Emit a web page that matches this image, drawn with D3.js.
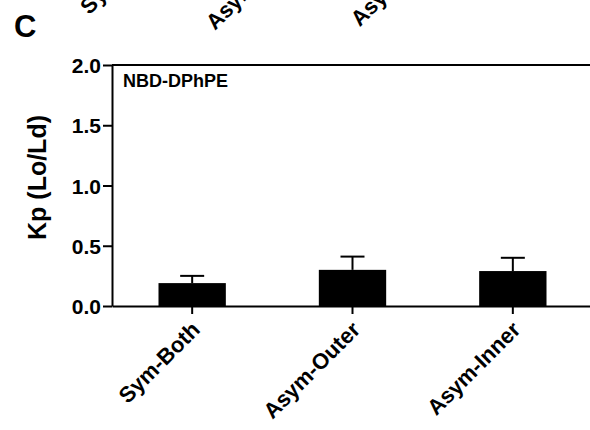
<!DOCTYPE html>
<html>
<head>
<meta charset="utf-8">
<script src="https://cdn.jsdelivr.net/npm/d3@7"></script>
<style>
  body { margin: 0; background: #fff; }
  svg { display: block; font-family: "Liberation Sans", Arial, sans-serif; }
  .axis path, .axis line { stroke: #000; stroke-width: 2; }
  .axis text { font-weight: bold; fill: #000; }
</style>
</head>
<body>
<div class="chart"></div>
<script>
// data
const categories = ['Sym-Both', 'Asym-Outer', 'Asym-Inner'];
const means = [0.19, 0.30, 0.29];
const errors = [0.06, 0.11, 0.11];
const yTicks = [0, 0.5, 1.0, 1.5, 2.0];
const panelLetter = 'C';
const probeName = 'NBD-DPhPE';
const yTitle = 'Kp (Lo/Ld)';

const width = 590, height = 430;
const margin = {top: 65, right: -3, bottom: 124, left: 112};

const svg = d3.select('.chart').append('svg')
  .attr('width', width)
  .attr('height', height);

const x = d3.scaleBand()
  .domain(categories)
  .range([margin.left, width - margin.right])
  .paddingInner(0.58)
  .paddingOuter(0.29);

const y = d3.scaleLinear()
  .domain([0, 2])
  .range([height - margin.bottom, margin.top]);

// leftovers of the panel above (labels cut off by the top edge)
const xAbove = d3.scaleBand()
  .domain(categories)
  .range([87, 511]);

svg.append('g')
  .selectAll('text')
  .data(categories)
  .join('text')
  .attr('text-anchor', 'end')
  .attr('transform', d => `translate(${xAbove(d) + xAbove.bandwidth() / 2 + 5},-58) rotate(-45)`)
  .style('font-size', '22px')
  .style('font-weight', 'bold')
  .text(d => d);

// bars
svg.append('g')
  .selectAll('rect')
  .data(categories)
  .join('rect')
  .attr('x', d => x(d))
  .attr('width', x.bandwidth())
  .attr('y', (d, i) => y(means[i]))
  .attr('height', (d, i) => y(0) - y(means[i]))
  .attr('fill', '#000');

// error bars (upper only)
const err = svg.append('g')
  .attr('stroke', '#000')
  .attr('stroke-width', 2);

err.selectAll('line.stem')
  .data(categories)
  .join('line')
  .attr('class', 'stem')
  .attr('x1', d => x(d) + x.bandwidth() / 2)
  .attr('x2', d => x(d) + x.bandwidth() / 2)
  .attr('y1', (d, i) => y(means[i]))
  .attr('y2', (d, i) => y(means[i] + errors[i]));

err.selectAll('line.cap')
  .data(categories)
  .join('line')
  .attr('class', 'cap')
  .attr('x1', d => x(d) + x.bandwidth() / 2 - 12)
  .attr('x2', d => x(d) + x.bandwidth() / 2 + 12)
  .attr('y1', (d, i) => y(means[i] + errors[i]))
  .attr('y2', (d, i) => y(means[i] + errors[i]));

// top frame line
svg.append('line')
  .attr('x1', margin.left)
  .attr('x2', width + 5)
  .attr('y1', y(2))
  .attr('y2', y(2))
  .attr('stroke', '#000')
  .attr('stroke-width', 2);

// y axis
const yAxis = svg.append('g')
  .attr('class', 'axis')
  .attr('transform', `translate(${margin.left},0)`)
  .call(d3.axisLeft(y)
    .tickValues(yTicks)
    .tickFormat(d3.format('.1f'))
    .tickSize(9)
    .tickSizeOuter(0)
    .tickPadding(2));
yAxis.selectAll('.tick text')
  .attr('dy', '0.36em')
  .style('font-size', '21px');

// x axis
const xAxis = svg.append('g')
  .attr('class', 'axis')
  .attr('transform', `translate(0,${y(0)})`)
  .call(d3.axisBottom(x)
    .tickSize(8)
    .tickSizeOuter(0));
xAxis.selectAll('.tick text')
  .attr('text-anchor', 'end')
  .attr('x', 0)
  .attr('y', 0)
  .attr('dy', 0)
  .style('font-size', '22px')
  .attr('transform', 'translate(9,25) rotate(-45)');

// labels
svg.append('text')
  .attr('x', 14)
  .attr('y', 37)
  .style('font-size', '31px')
  .style('font-weight', 'bold')
  .text(panelLetter);

svg.append('text')
  .attr('x', margin.left + 11)
  .attr('y', 87)
  .style('font-size', '18px')
  .style('font-weight', 'bold')
  .text(probeName);

svg.append('text')
  .attr('text-anchor', 'middle')
  .attr('transform', `translate(46,${(y(0) + y(2)) / 2 - 8}) rotate(-90)`)
  .style('font-size', '25px')
  .style('font-weight', 'bold')
  .text(yTitle);
</script>
</body>
</html>
